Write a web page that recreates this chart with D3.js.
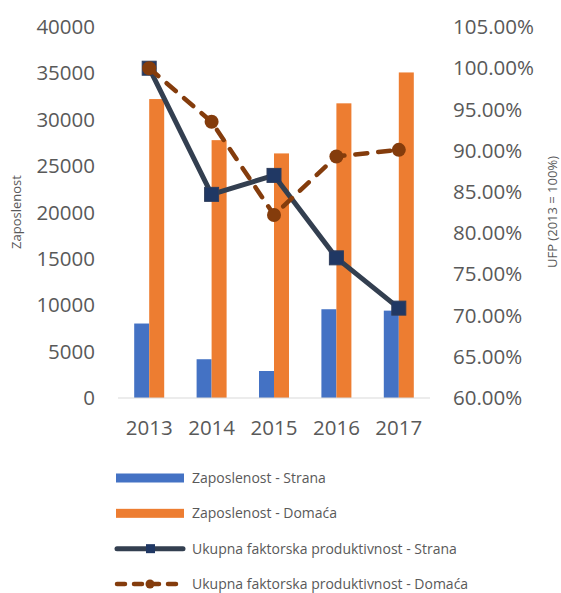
<!DOCTYPE html>
<html>
<head>
<meta charset="utf-8">
<script src="https://cdn.jsdelivr.net/npm/d3@7"></script>
<style>
  body { margin: 0; background: #fff; }
  text { font-family: "Open Sans", sans-serif; fill: #595959; }
</style>
</head>
<body>
<div id="chart-area"></div>
<script>
const years = ["2013", "2014", "2015", "2016", "2017"];
const zapStrana = [8030, 4180, 2910, 9570, 9420];
const zapDomaca = [32230, 27800, 26370, 31770, 35100];
const ufpStrana = [1.0, 0.847, 0.870, 0.770, 0.709];
const ufpDomaca = [1.0, 0.935, 0.822, 0.893, 0.901];
const leftTicks = [0, 5000, 10000, 15000, 20000, 25000, 30000, 35000, 40000];
const rightTicks = [0.6, 0.65, 0.7, 0.75, 0.8, 0.85, 0.9, 0.95, 1.0, 1.05];
const legendItems = [
  "Zaposlenost - Strana",
  "Zaposlenost - Domaća",
  "Ukupna faktorska produktivnost - Strana",
  "Ukupna faktorska produktivnost - Domaća"
];

const BLUE = "#4472C4";
const ORANGE = "#ED7D31";
const NAVY_LINE = "#333F50";
const NAVY = "#203864";
const BROWN = "#843C0C";

const drawChart = () => {
  const WIDTH = 561;
  const HEIGHT = 593;
  const LEFT = 118, RIGHT = 430, TOP = 27, BOTTOM = 398;

  const svg = d3.select("#chart-area")
    .append("svg")
    .attr("width", WIDTH)
    .attr("height", HEIGHT);

  const x = d3.scaleBand().domain(years).range([LEFT, RIGHT]);
  const sub = d3.scaleBand()
    .domain(["s", "d"])
    .range([x.bandwidth() / 2 - 15, x.bandwidth() / 2 + 15]);
  const yL = d3.scaleLinear().domain([0, 40000]).range([BOTTOM, TOP]);
  const yR = d3.scaleLinear().domain([0.6, 1.05]).range([BOTTOM, TOP]);

  // axes
  const gL = svg.append("g")
    .attr("transform", `translate(${LEFT},0)`)
    .call(d3.axisLeft(yL).tickValues(leftTicks).tickSize(0).tickPadding(23)
      .tickFormat(d3.format("d")));
  const gR = svg.append("g")
    .attr("transform", `translate(${RIGHT},0)`)
    .call(d3.axisRight(yR).tickValues(rightTicks).tickSize(0).tickPadding(23)
      .tickFormat(d3.format(".2%")));
  const gB = svg.append("g")
    .attr("transform", `translate(0,${BOTTOM})`)
    .call(d3.axisBottom(x).tickSize(0).tickPadding(22));
  [gL, gR, gB].forEach(g => {
    g.select(".domain").remove();
    g.selectAll("text")
      .style("font-family", "'Open Sans', sans-serif")
      .style("font-size", "20.5px")
      .attr("fill", "#595959");
  });

  // bars
  const bars = svg.append("g");
  bars.selectAll("rect.s").data(years).enter().append("rect")
    .attr("x", d => x(d) + sub("s"))
    .attr("width", sub.bandwidth())
    .attr("y", (d, i) => yL(zapStrana[i]))
    .attr("height", (d, i) => BOTTOM - yL(zapStrana[i]))
    .attr("fill", BLUE);
  bars.selectAll("rect.d").data(years).enter().append("rect")
    .attr("x", d => x(d) + sub("d"))
    .attr("width", sub.bandwidth())
    .attr("y", (d, i) => yL(zapDomaca[i]))
    .attr("height", (d, i) => BOTTOM - yL(zapDomaca[i]))
    .attr("fill", ORANGE);

  svg.append("line")
    .attr("x1", LEFT).attr("x2", RIGHT)
    .attr("y1", BOTTOM).attr("y2", BOTTOM)
    .attr("stroke", "#D9D9D9").attr("stroke-width", 1.2);

  const cx = d => x(d) + x.bandwidth() / 2;

  // lines
  const lineS = d3.line().x((d, i) => cx(years[i])).y(d => yR(d));
  svg.append("path").datum(ufpStrana)
    .attr("d", lineS).attr("fill", "none")
    .attr("stroke", NAVY_LINE).attr("stroke-width", 5)
    .attr("stroke-linejoin", "round");
  svg.selectAll("rect.m").data(ufpStrana).enter().append("rect")
    .attr("x", (d, i) => cx(years[i]) - 7)
    .attr("y", d => yR(d) - 7)
    .attr("width", 14).attr("height", 14)
    .attr("fill", NAVY).attr("stroke", "#2F3E5C").attr("stroke-width", 1);

  svg.append("path").datum(ufpDomaca)
    .attr("d", lineS).attr("fill", "none")
    .attr("stroke", BROWN).attr("stroke-width", 4.5)
    .attr("stroke-dasharray", "12,11")
    .attr("stroke-linecap", "round");
  svg.selectAll("circle.m").data(ufpDomaca).enter().append("circle")
    .attr("cx", (d, i) => cx(years[i]))
    .attr("cy", d => yR(d))
    .attr("r", 7)
    .attr("fill", BROWN);

  // axis titles
  svg.append("text")
    .attr("transform", "translate(21,212) rotate(-90)")
    .attr("text-anchor", "middle")
    .style("font-size", "13px")
    .text("Zaposlenost");
  svg.append("text")
    .attr("transform", "translate(557,212) rotate(-90)")
    .attr("text-anchor", "middle")
    .style("font-size", "13px")
    .text("UFP (2013 = 100%)");

  // legend
  const ly = d3.scalePoint().domain(legendItems).range([478, 584]);
  const lg = svg.append("g");
  lg.selectAll("text").data(legendItems).enter().append("text")
    .attr("x", 192)
    .attr("y", d => ly(d))
    .attr("dy", "0.35em")
    .style("font-size", "14px")
    .text(d => d);

  lg.append("rect").attr("x", 116).attr("width", 68)
    .attr("y", ly(legendItems[0]) - 4.5).attr("height", 9).attr("fill", BLUE);
  lg.append("rect").attr("x", 116).attr("width", 68)
    .attr("y", ly(legendItems[1]) - 4.5).attr("height", 9).attr("fill", ORANGE);

  const y3 = ly(legendItems[2]);
  lg.append("line").attr("x1", 117).attr("x2", 183).attr("y1", y3).attr("y2", y3)
    .attr("stroke", NAVY_LINE).attr("stroke-width", 5).attr("stroke-linecap", "round");
  lg.append("rect").attr("x", 146).attr("y", y3 - 4.5).attr("width", 9).attr("height", 9)
    .attr("fill", NAVY);

  const y4 = ly(legendItems[3]);
  lg.append("line").attr("x1", 117).attr("x2", 183).attr("y1", y4).attr("y2", y4)
    .attr("stroke", BROWN).attr("stroke-width", 4.5)
    .attr("stroke-dasharray", "8,9").attr("stroke-linecap", "round");
  lg.append("circle").attr("cx", 150).attr("cy", y4).attr("r", 4.5).attr("fill", BROWN);
};

window.onload = drawChart;
</script>
</body>
</html>
